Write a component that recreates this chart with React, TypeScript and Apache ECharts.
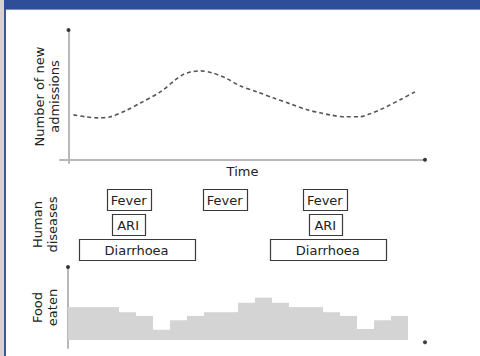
import React, { useEffect, useRef } from "react";
import * as echarts from "echarts";

// Time axis shared by all panels (arbitrary units)
const curveTime = [0.29, 1.0, 1.71, 2.47, 3.35, 4.24, 5.41, 6.29, 6.71, 7.18, 7.76, 8.47, 9.24, 10.12, 11.12, 12.06, 13.06, 14.06, 14.82, 15.41, 16.29, 17.18, 17.76, 18.35, 18.94, 19.53, 20.41];
const admissions = [3.46, 3.31, 3.23, 3.31, 3.77, 4.38, 5.23, 6.15, 6.54, 6.77, 6.85, 6.69, 6.31, 5.69, 5.23, 4.77, 4.31, 3.85, 3.62, 3.46, 3.31, 3.31, 3.54, 3.85, 4.23, 4.62, 5.23];

const diseaseRows = ["Diarrhoea", "ARI", "Fever"];
const diseaseStart = [2.27, 7.92, 13.81, 2.56, 14.16, 0.62, 11.87];
const diseaseEnd = [4.86, 10.51, 16.4, 4.51, 16.11, 7.45, 18.7];
const diseaseName = ["Fever", "Fever", "Fever", "ARI", "ARI", "Diarrhoea", "Diarrhoea"];

const foodEaten = [4.5, 4.5, 4.5, 3.8, 3.3, 1.4, 2.7, 3.3, 3.8, 3.8, 5.1, 5.8, 5.1, 4.5, 4.5, 3.8, 3.3, 1.5, 2.7, 3.3];

const FONT = "DejaVu Sans";
const TXT = "#222";
const AXIS = "#b8b8b8";

export default function App() {
  const ref = useRef<HTMLDivElement>(null);
  useEffect(() => {
    const chart = echarts.init(ref.current!, null, { renderer: "svg" });
    const nameStyle = { fontFamily: FONT, fontSize: 13, color: TXT, lineHeight: 15 };
    const hiddenAxisBits = { axisTick: { show: false }, axisLabel: { show: false }, splitLine: { show: false } };

    const option: any = {
      animation: false,
      backgroundColor: "#fff",
      graphic: [
        { type: "rect", shape: { x: 0, y: 0, width: 480, height: 9 }, style: { fill: "#2f4e98" }, silent: true },
        { type: "rect", shape: { x: 0, y: 9, width: 480, height: 1 }, style: { fill: "#7d8fc0" }, silent: true },
        { type: "rect", shape: { x: 0, y: 0, width: 4, height: 356 }, style: { fill: "#d6d3cd" }, silent: true },
        { type: "rect", shape: { x: 4, y: 9, width: 2, height: 347 }, style: { fill: "#3a58a0" }, silent: true },
      ],
      grid: [
        { left: 60, right: 55, top: 30, bottom: 193 },
        { left: 68, right: 55, top: 187, bottom: 94 },
        { left: 68, right: 55, top: 267, bottom: 8 },
      ],
      xAxis: [
        {
          gridIndex: 0, type: "value", min: -0.5, max: 21,
          name: "Time", nameLocation: "middle", nameGap: 1, nameTextStyle: { ...nameStyle, verticalAlign: "top" },
          axisLine: { show: true, onZero: true, lineStyle: { color: AXIS, width: 2 } },
          ...hiddenAxisBits,
        },
        { gridIndex: 1, type: "value", min: 0, max: 21, show: false },
        { gridIndex: 2, type: "value", min: 0, max: 21, show: false },
      ],
      yAxis: [
        {
          gridIndex: 0, type: "value", min: -0.25, max: 10,
          name: "Number of new\nadmissions", nameLocation: "middle", nameRotate: 90, nameGap: -2, nameTextStyle: nameStyle,
          axisLine: { show: true, onZero: true, lineStyle: { color: AXIS, width: 2 } },
          ...hiddenAxisBits,
        },
        {
          gridIndex: 1, type: "category", data: diseaseRows,
          name: "Human\ndiseases", nameLocation: "middle", nameRotate: 90, nameGap: 8, nameTextStyle: nameStyle,
          axisLine: { show: false }, ...hiddenAxisBits,
        },
        {
          gridIndex: 2, type: "value", min: -1.1, max: 10,
          name: "Food\neaten", nameLocation: "middle", nameRotate: 90, nameGap: 8, nameTextStyle: nameStyle,
          axisLine: { show: true, onZero: false, lineStyle: { color: AXIS, width: 2 } },
          ...hiddenAxisBits,
        },
      ],
      series: [
        {
          type: "line", xAxisIndex: 0, yAxisIndex: 0, smooth: 0.3, symbol: "none",
          data: curveTime.map((t, i) => [t, admissions[i]]),
          lineStyle: { color: "#555", width: 1.6, type: [4, 3] },
        },
        {
          type: "scatter", xAxisIndex: 0, yAxisIndex: 0, symbolSize: 4, clip: false,
          data: [[0, 10], [21, 0]], itemStyle: { color: "#111" },
        },
        {
          type: "custom", xAxisIndex: 1, yAxisIndex: 1, clip: false,
          data: diseaseName.map((n, i) => [diseaseStart[i], diseaseEnd[i], diseaseRows.indexOf(n), n]),
          renderItem: (params: any, api: any) => {
            const row = api.value(2);
            const p0 = api.coord([api.value(0), row]);
            const p1 = api.coord([api.value(1), row]);
            const h = 21;
            return {
              type: "group",
              children: [
                {
                  type: "rect",
                  shape: { x: Math.round(p0[0]) + 0.5, y: Math.round(p0[1] - h / 2) + 0.5, width: Math.round(p1[0] - p0[0]), height: h },
                  style: { fill: "#fff", stroke: "#3a3a3a", lineWidth: 1.2 },
                },
                {
                  type: "text",
                  style: {
                    x: (p0[0] + p1[0]) / 2, y: p0[1] + 1,
                    text: diseaseName[params.dataIndex],
                    align: "center", verticalAlign: "middle",
                    fontFamily: FONT, fontSize: 13, fill: TXT,
                  },
                },
              ],
            };
          },
        },
        {
          type: "custom", xAxisIndex: 2, yAxisIndex: 2,
          data: foodEaten.map((v, i) => [i, v]),
          renderItem: (params: any, api: any) => {
            const i = api.value(0);
            const a = api.coord([i, api.value(1)]);
            const b = api.coord([i + 1, 0]);
            return {
              type: "rect",
              shape: { x: a[0], y: a[1], width: b[0] - a[0], height: b[1] - a[1] },
              style: { fill: "#d4d4d4" },
            };
          },
        },
        {
          type: "scatter", xAxisIndex: 2, yAxisIndex: 2, symbolSize: 4, clip: false,
          data: [[0, 10], [21, -0.3]], itemStyle: { color: "#111" },
        },
      ],
    };
    chart.setOption(option);
    return () => chart.dispose();
  }, []);
  return <div ref={ref} style={{ position: "fixed", left: 0, top: 0, width: 480, height: 356 }} />;
}
